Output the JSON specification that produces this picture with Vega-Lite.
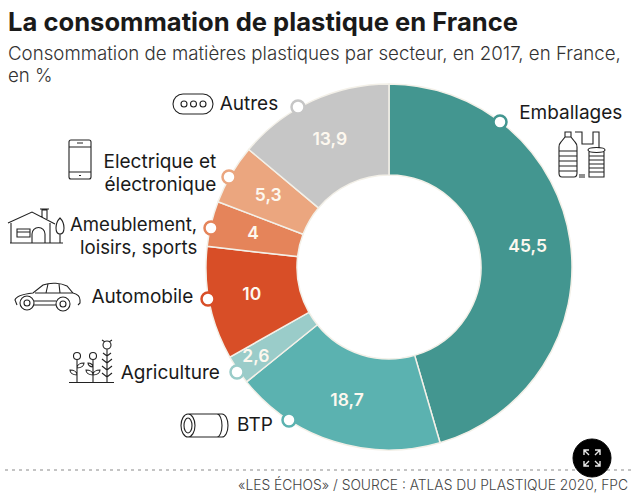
{"$schema":"https://vega.github.io/schema/vega-lite/v6.json","width":368,"height":368,"autosize":{"type":"none"},"padding":{"left":205,"top":83,"right":67,"bottom":48},"background":"#ffffff","title":{"text":"La consommation de plastique en France","subtitle":["Consommation de matières plastiques par secteur, en 2017, en France,","en %"],"anchor":"start","frame":"group","dx":-197,"offset":-122,"font":"Inter","fontSize":25.6,"fontWeight":700,"color":"#1a1a1a","subtitleFont":"Inter","subtitleFontSize":18.7,"subtitleFontWeight":300,"subtitleColor":"#333333","subtitlePadding":8,"subtitleLineHeight":22},"view":{"stroke":null},"config":{"style":{"cell":{"stroke":null}}},"resolve":{"scale":{"shape":"independent","stroke":"independent"}},"layer":[{"data":{"values":[{"secteur":"Emballages","rang":1,"part":45.5,"etiquette":"45,5","nom":"Emballages"},{"secteur":"BTP","rang":2,"part":18.7,"etiquette":"18,7","nom":"BTP"},{"secteur":"Agriculture","rang":3,"part":2.6,"etiquette":"2,6","nom":"Agriculture"},{"secteur":"Automobile","rang":4,"part":10,"etiquette":"10","nom":"Automobile"},{"secteur":"Ameublement","rang":5,"part":4,"etiquette":"4","nom":"Ameublement,\nloisirs, sports"},{"secteur":"Electrique","rang":6,"part":5.3,"etiquette":"5,3","nom":"Electrique et\nélectronique"},{"secteur":"Autres","rang":7,"part":13.9,"etiquette":"13,9","nom":"Autres"}]},"encoding":{"theta":{"field":"part","type":"quantitative","stack":true,"scale":{"domain":[0,100]}},"order":{"field":"rang","type":"quantitative"},"detail":{"field":"secteur"}},"resolve":{"scale":{"shape":"independent","stroke":"independent"}},"layer":[{"mark":{"type":"arc","outerRadius":183,"innerRadius":92,"stroke":"#f3f0e8","strokeWidth":1.5},"encoding":{"color":{"field":"secteur","type":"nominal","legend":null,"scale":{"domain":["Emballages","BTP","Agriculture","Automobile","Ameublement","Electrique","Autres"],"range":["#439690","#5bb2b0","#9accc9","#d84e27","#e5845a","#eba67f","#c6c6c6"]}}}},{"mark":{"type":"text","radius":140,"font":"Inter","fontSize":17.5,"fontWeight":600,"fill":"#fdf8ef","baseline":"middle"},"encoding":{"text":{"condition":{"test":"datum.secteur !== 'Agriculture'","field":"etiquette"},"value":""}}},{"mark":{"type":"text","radius":161,"font":"Inter","fontSize":17.5,"fontWeight":600,"fill":"#fdf8ef","baseline":"middle"},"encoding":{"text":{"condition":{"test":"datum.secteur === 'Agriculture'","field":"etiquette"},"value":""}}},{"mark":{"type":"point","filled":true,"fill":"#ffffff","size":4,"strokeWidth":2.5,"opacity":1},"encoding":{"theta":null,"order":null,"shape":{"field":"secteur","type":"nominal","legend":null,"scale":{"domain":["Emballages","BTP","Agriculture","Automobile","Ameublement","Electrique","Autres"],"range":["M104.500 -145 A6.500 6.500 0 1 0 117.500 -145 A6.500 6.500 0 1 0 104.500 -145 Z","M-106.500 153 A6.500 6.500 0 1 0 -93.500 153 A6.500 6.500 0 1 0 -106.500 153 Z","M-158.500 105 A6.500 6.500 0 1 0 -145.500 105 A6.500 6.500 0 1 0 -158.500 105 Z","M-187.500 32 A6.500 6.500 0 1 0 -174.500 32 A6.500 6.500 0 1 0 -187.500 32 Z","M-184.500 -39 A6.500 6.500 0 1 0 -171.500 -39 A6.500 6.500 0 1 0 -184.500 -39 Z","M-166.500 -90 A6.500 6.500 0 1 0 -153.500 -90 A6.500 6.500 0 1 0 -166.500 -90 Z","M-97.500 -160 A6.500 6.500 0 1 0 -84.500 -160 A6.500 6.500 0 1 0 -97.500 -160 Z"]}},"stroke":{"field":"secteur","type":"nominal","legend":null,"scale":{"domain":["Emballages","BTP","Agriculture","Automobile","Ameublement","Electrique","Autres"],"range":["#439690","#5bb2b0","#9accc9","#d84e27","#e5845a","#eba67f","#c6c6c6"]}}}},{"mark":{"type":"point","filled":false,"size":4,"stroke":"#222222","strokeWidth":1.1,"opacity":1},"encoding":{"theta":null,"order":null,"shape":{"field":"secteur","type":"nominal","legend":null,"scale":{"domain":["Emballages","BTP","Agriculture","Automobile","Ameublement","Electrique","Autres"],"range":["M176 -135 h6 v5 l4 5 q2 2 2 5 v26 q0 4 -3 4 h-12 q-3 0 -3 -4 v-26 q0 -3 2 -5 l4 -5 z M176 -130 h6 M170 -116 h18 M170 -111 h18 M170 -106 h18 M170 -101 h18 M170 -96 h18 M186 -135 h7 v12 h11 v-12 h6 v16 M190 -92 h6 M190 -90 h6 M199 -117 a8.5 2.5 0 1 1 17 0 a8.5 2.5 0 1 1 -17 0 z M200 -115 V-90 H215 V-115 M200 -111 h15 M200 -107 h15 M200 -103 h15 M200 -99 h15 M200 -95 h15","M-201 147 a7 11.5 0 1 0 0 23 a7 11.5 0 1 0 0 -23 z M-201 151 a4 7.5 0 1 0 0 15 a4 7.5 0 1 0 0 -15 z M-201 147 H-167 M-201 170 H-167 M-167 147 a6 11.5 0 0 1 0 23 M-172 147 a5 11.5 0 0 1 0 23","M-320 115.5 H-275 M-312 115 V92 M-312 89 m-3.5 0 a3.5 3.5 0 1 0 7 0 a3.5 3.5 0 1 0 -7 0 z M-312 108 c-4 0 -7 -2 -7 -5 c4 0 7 2 7 5 z M-312 101 c4 0 7 -2 7 -5 c-4 0 -7 2 -7 5 z M-296 115 V92 M-296 89 m-3.5 0 a3.5 3.5 0 1 0 7 0 a3.5 3.5 0 1 0 -7 0 z M-296 108 c-4 0 -7 -2 -7 -5 c4 0 7 2 7 5 z M-296 108 c4 0 7 -2 7 -5 c-4 0 -7 2 -7 5 z M-296 100 c-3 0 -5 -2 -5 -4 c3 0 5 2 5 4 z M-282 115 V82 M-282 78 m-4 0 a4 4 0 1 0 8 0 a4 4 0 1 0 -8 0 z M-287 73 l3 2 M-277 73 l-3 2 M-282 110 l-5 -4 M-282 110 l5 -4 M-282 103 l-5 -4 M-282 103 l5 -4 M-282 96 l-5 -4 M-282 96 l5 -4 M-282 89 l-4 -3 M-282 89 l4 -3","M-372 38 L-374 33 C-373 29 -365 27 -356 26 L-346 18 C-338 15 -328 16 -322 19 L-316 26 C-312 27 -309 29 -309 33 L-309 36 L-311 38 M-369 36 a7 7 0 1 0 14 0 a7 7 0 1 0 -14 0 z M-365 36 a3 3 0 1 0 6 0 a3 3 0 1 0 -6 0 z M-333 37 a7 7 0 1 0 14 0 a7 7 0 1 0 -14 0 z M-329 37 a3 3 0 1 0 6 0 a3 3 0 1 0 -6 0 z M-355 34 H-333 M-355 38 H-333 M-354 26 H-316 M-341 17 L-343 26 M-330 17 L-329 26","M-381 -44 L-357 -55 L-334 -43 M-347 -50 v-7 h5 v9 M-349 -58 h9 M-378 -44 V-24 H-339 V-44 M-379 -24 H-326 M-372 -38 h13 v8 h-13 z M-372 -35 h13 M-357 -24 v-9 a6.5 6.5 0 0 1 13 0 v9 M-329 -49 c-3 3 -4 7 -4 10 c0 4 2 6 4 6 c2 0 4 -2 4 -6 c0 -3 -1 -7 -4 -10 z M-329 -33 V-24","M-318 -127 h18 a2 2 0 0 1 2 2 v35 a2 2 0 0 1 -2 2 h-18 a2 2 0 0 1 -2 -2 v-35 a2 2 0 0 1 2 -2 z M-320 -120 h22 M-320 -95 h22 M-312 -124 h6 M-310 -91.5 h2","M-206 -173 h20 a10 10 0 0 1 0 20 h-20 a10 10 0 0 1 0 -20 z M-208 -163 a3 3 0 1 0 6 0 a3 3 0 1 0 -6 0 z M-198.500 -163 a3 3 0 1 0 6 0 a3 3 0 1 0 -6 0 z M-189 -163 a3 3 0 1 0 6 0 a3 3 0 1 0 -6 0 z"]}}}},{"mark":{"type":"text","radius":184,"dx":-52,"dy":-128,"align":"left","baseline":"middle","font":"Inter","fontSize":19,"fill":"#1a1a1a","lineHeight":23,"lineBreak":"\n"},"encoding":{"text":{"condition":{"test":"datum.secteur === 'Emballages'","field":"nom"},"value":""}}},{"mark":{"type":"text","radius":184,"dx":-61,"dy":-18,"align":"right","baseline":"middle","font":"Inter","fontSize":19,"fill":"#1a1a1a","lineHeight":23,"lineBreak":"\n"},"encoding":{"text":{"condition":{"test":"datum.secteur === 'BTP'","field":"nom"},"value":""}}},{"mark":{"type":"text","radius":184,"dx":-17,"dy":3,"align":"right","baseline":"middle","font":"Inter","fontSize":19,"fill":"#1a1a1a","lineHeight":23,"lineBreak":"\n"},"encoding":{"text":{"condition":{"test":"datum.secteur === 'Agriculture'","field":"nom"},"value":""}}},{"mark":{"type":"text","radius":184,"dx":-15.5,"dy":-6.7,"align":"right","baseline":"middle","font":"Inter","fontSize":19,"fill":"#1a1a1a","lineHeight":23,"lineBreak":"\n"},"encoding":{"text":{"condition":{"test":"datum.secteur === 'Automobile'","field":"nom"},"value":""}}},{"mark":{"type":"text","radius":184,"dx":-13,"dy":1.6,"align":"right","baseline":"middle","font":"Inter","fontSize":18.6,"fill":"#1a1a1a","lineHeight":23,"lineBreak":"\n"},"encoding":{"text":{"condition":{"test":"datum.secteur === 'Ameublement'","field":"nom"},"value":""}}},{"mark":{"type":"text","radius":184,"dx":-14,"dy":-12,"align":"right","baseline":"middle","font":"Inter","fontSize":19,"fill":"#1a1a1a","lineHeight":23,"lineBreak":"\n"},"encoding":{"text":{"condition":{"test":"datum.secteur === 'Electrique'","field":"nom"},"value":""}}},{"mark":{"type":"text","radius":184,"dx":-33,"dy":4,"align":"right","baseline":"middle","font":"Inter","fontSize":19,"fill":"#1a1a1a","lineHeight":23,"lineBreak":"\n"},"encoding":{"text":{"condition":{"test":"datum.secteur === 'Autres'","field":"nom"},"value":""}}}]},{"data":{"values":[{"source":"«LES ÉCHOS» / SOURCE : ATLAS DU PLASTIQUE 2020, FPC"}]},"layer":[{"mark":{"type":"point","filled":false,"size":4,"shape":"M-384 203 H243","stroke":"#8a8a8a","strokeWidth":1.2,"strokeDash":[3,4],"opacity":1},"encoding":{}},{"mark":{"type":"text","dx":239,"dy":219,"align":"right","baseline":"middle","font":"Inter","fontSize":13.8,"fontWeight":300,"fill":"#444444"},"encoding":{"text":{"field":"source"}}},{"mark":{"type":"point","filled":true,"size":4,"shape":"M184 191 A19 19 0 1 0 222 191 A19 19 0 1 0 184 191 Z","fill":"#000000","stroke":"#000000","strokeWidth":1,"opacity":1},"encoding":{}},{"mark":{"type":"point","filled":false,"size":4,"shape":"M195 188 v-5 h5 M195 183 l5 5 M206 183 h5 v5 M211 183 l-5 5 M195 194 v5 h5 M195 199 l5 -5 M206 199 h5 v-5 M211 199 l-5 -5","stroke":"#e8e8e8","strokeWidth":1.4,"opacity":1},"encoding":{}}]}]}
